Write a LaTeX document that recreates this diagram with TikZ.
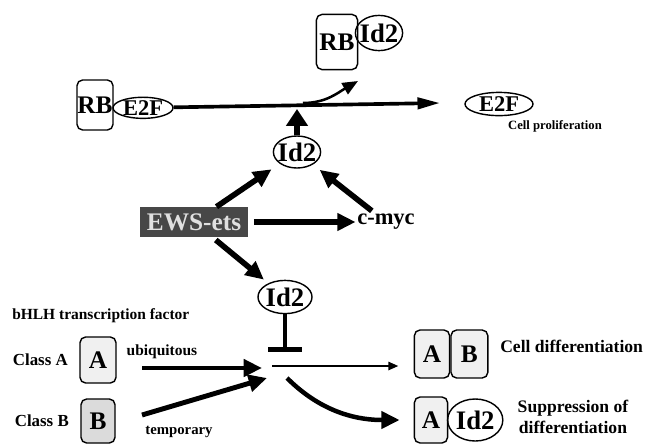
\documentclass[tikz,border=0pt]{standalone}
\usepackage{fontspec}
\setmainfont{Liberation Serif}
\usepackage{tikz}
\usetikzlibrary{
    shapes.geometric,
    arrows.meta,
    positioning
}
\tikzset{
    % Letters inside the protein shapes
    prot font/.style={font=\fontsize{18}{20}\selectfont\bfseries},
    % Protein drawn as a rounded box
    protbox/.style={
        prot font,
        rectangle,
        rounded corners=4pt,
        draw,
        line width=1pt,
        inner sep=0pt,
        minimum width=0.9cm,
        minimum height=1.2cm,
    },
    % Light grain of the lower boxes
    grain/.style={fill=black!6},
    % Protein drawn as an ellipse
    protoval/.style={
        prot font,
        ellipse,
        draw,
        line width=1pt,
        inner xsep=-2pt,
        inner ysep=0pt,
    },
    % Small bold labels
    tag/.style={font=\fontsize{12}{15}\selectfont\bfseries, inner sep=0pt},
    % Thick black arrow
    fat arrow/.style={
        -{Triangle[length=13pt, width=12pt]},
        line width=4pt,
    },
    % Arrow along the RB-E2F line
    line arrow/.style={
        -{Triangle[length=16pt, width=8pt]},
        line width=2.6pt,
    },
    % Thin arrow to differentiation
    thin arrow/.style={
        -{Triangle[length=7pt, width=6pt]},
        line width=1pt,
    },
    % Block by Id2
    block/.style={
        -{Bar[width=24pt, line width=3.5pt]},
        line width=2.2pt,
    },
}

\begin{document}
\begin{tikzpicture}[x=0.025cm, y=-0.025cm]
    \useasboundingbox (0,0) rectangle (645,443);

    % RB / E2F and cell proliferation
    \node (rbLeft) [protbox, minimum width=0.9cm, minimum height=1.25cm] at (95,105) {RB};
    \node (e2fLeft) [protoval, font=\fontsize{16}{18}\selectfont\bfseries, minimum width=1.5cm, minimum height=0.52cm, right=-1pt of rbLeft.east, anchor=west, yshift=-2pt] {E2F};
    \node (rbTop) [protbox, minimum width=1.03cm, minimum height=1.38cm] at (337,42) {RB};
    \node (id2Top) [protoval, font=\fontsize{19}{21}\selectfont\bfseries, minimum width=1.18cm, minimum height=0.88cm] at (379,33) {Id2};
    \node (e2fRight) [protoval, font=\fontsize{16}{18}\selectfont\bfseries, minimum width=1.7cm, minimum height=0.58cm] at (499,104) {E2F};
    \node (prolif) [tag, font=\fontsize{9}{11}\selectfont\bfseries] at (555,126) {Cell proliferation};

    \coordinate (mainTip) at (440,103);
    \coordinate (branchTail) at (303,103);
    \coordinate (branchTip) at (358,81);
    \coordinate (upTip) at (297,109);

    \draw [line arrow] (e2fLeft) -- (mainTip);
    \draw [-{Triangle[length=11pt, width=9pt]}, line width=1.8pt] (branchTail) to[out=0, in=210] (branchTip);

    % Id2 induced by EWS-ets
    \node (id2Mid) [protoval, font=\fontsize{19}{21}\selectfont\bfseries, minimum width=1.18cm, minimum height=0.8cm] at (297,152) {Id2};
    \node (ews) [rectangle, fill=black!72, text=black!12, font=\fontsize{18}{20}\selectfont\bfseries, minimum width=2.7cm, minimum height=0.75cm, inner sep=0pt] at (194,222) {EWS-ets};
    \node (cmyc) [font=\fontsize{16}{18}\selectfont\bfseries, inner sep=1pt] at (386,222) {c-myc};
    \node (id2Low) [protoval, font=\fontsize{19}{21}\selectfont\bfseries, minimum width=1.35cm, minimum height=0.83cm] at (285,297) {Id2};

    \draw [fat arrow, -{Triangle[length=12pt, width=15pt]}] (id2Mid) -- (upTip);
    \draw [fat arrow, shorten >=7pt] (ews) -- (id2Mid);
    \draw [fat arrow, shorten <=2pt, shorten >=6pt] (cmyc) -- (id2Mid);
    \draw [fat arrow, shorten <=4pt] (ews) -- (cmyc);
    \draw [fat arrow, shorten <=3pt, shorten >=4pt] (ews) -- (id2Low);

    % bHLH partners
    \node (bhlh) [tag, font=\fontsize{11}{13}\selectfont\bfseries, anchor=west] at (12,316) {bHLH transcription factor};
    \node (clsA) [protbox, grain, minimum width=0.9cm, minimum height=1.15cm] at (98,360) {A};
    \node (clsB) [protbox, fill=black!14, minimum width=0.85cm, minimum height=1.1cm] at (98,421) {B};
    \node (nameA) [tag, left=8pt of clsA] {Class A};
    \node (nameB) [tag, left=8pt of clsB] {Class B};
    \node (ubiq) [tag, font=\fontsize{11}{13}\selectfont\bfseries] at (162,352) {ubiquitous};
    \node (temp) [tag, font=\fontsize{10.5}{13}\selectfont\bfseries] at (179,432) {temporary};

    \coordinate (aTail) at (142,368);
    \coordinate (aTip) at (262,368);
    \coordinate (bTail) at (142,415);
    \coordinate (bTip) at (267,378);
    \coordinate (mix) at (272,366);
    \coordinate (blockEnd) at (285,352);
    \coordinate (curveTail) at (287,378);

    \draw [fat arrow, line width=3.5pt] (aTail) -- (aTip);
    \draw [fat arrow, line width=3.5pt] (bTail) -- (bTip);
    \draw [block] (id2Low) -- (blockEnd);

    % Outcomes
    \node (abA) [protbox, grain, minimum width=0.88cm, minimum height=1.2cm] at (432,354) {A};
    \node (abB) [protbox, grain, minimum width=0.92cm, minimum height=1.2cm, right=0pt of abA] {B};
    \node (diff) [tag, font=\fontsize{12.5}{15}\selectfont\bfseries, anchor=west] at (500,346) {Cell differentiation};
    \node (supA) [protbox, grain, minimum width=0.83cm, minimum height=1.15cm] at (431,420) {A};
    \node (supId2) [protoval, font=\fontsize{19}{21}\selectfont\bfseries, minimum width=1.38cm, minimum height=1.05cm, right=-1pt of supA] {Id2};
    \node (supp) [tag, font=\fontsize{12.5}{15}\selectfont\bfseries, align=center] at (573,417) {Suppression of\\differentiation};

    \draw [thin arrow, shorten >=11pt] (mix) -- (abA.west |- mix);
    \draw [fat arrow, line width=3.2pt, shorten >=10pt] (curveTail) to[out=-45, in=180] (supA.west);
\end{tikzpicture}
\end{document}
